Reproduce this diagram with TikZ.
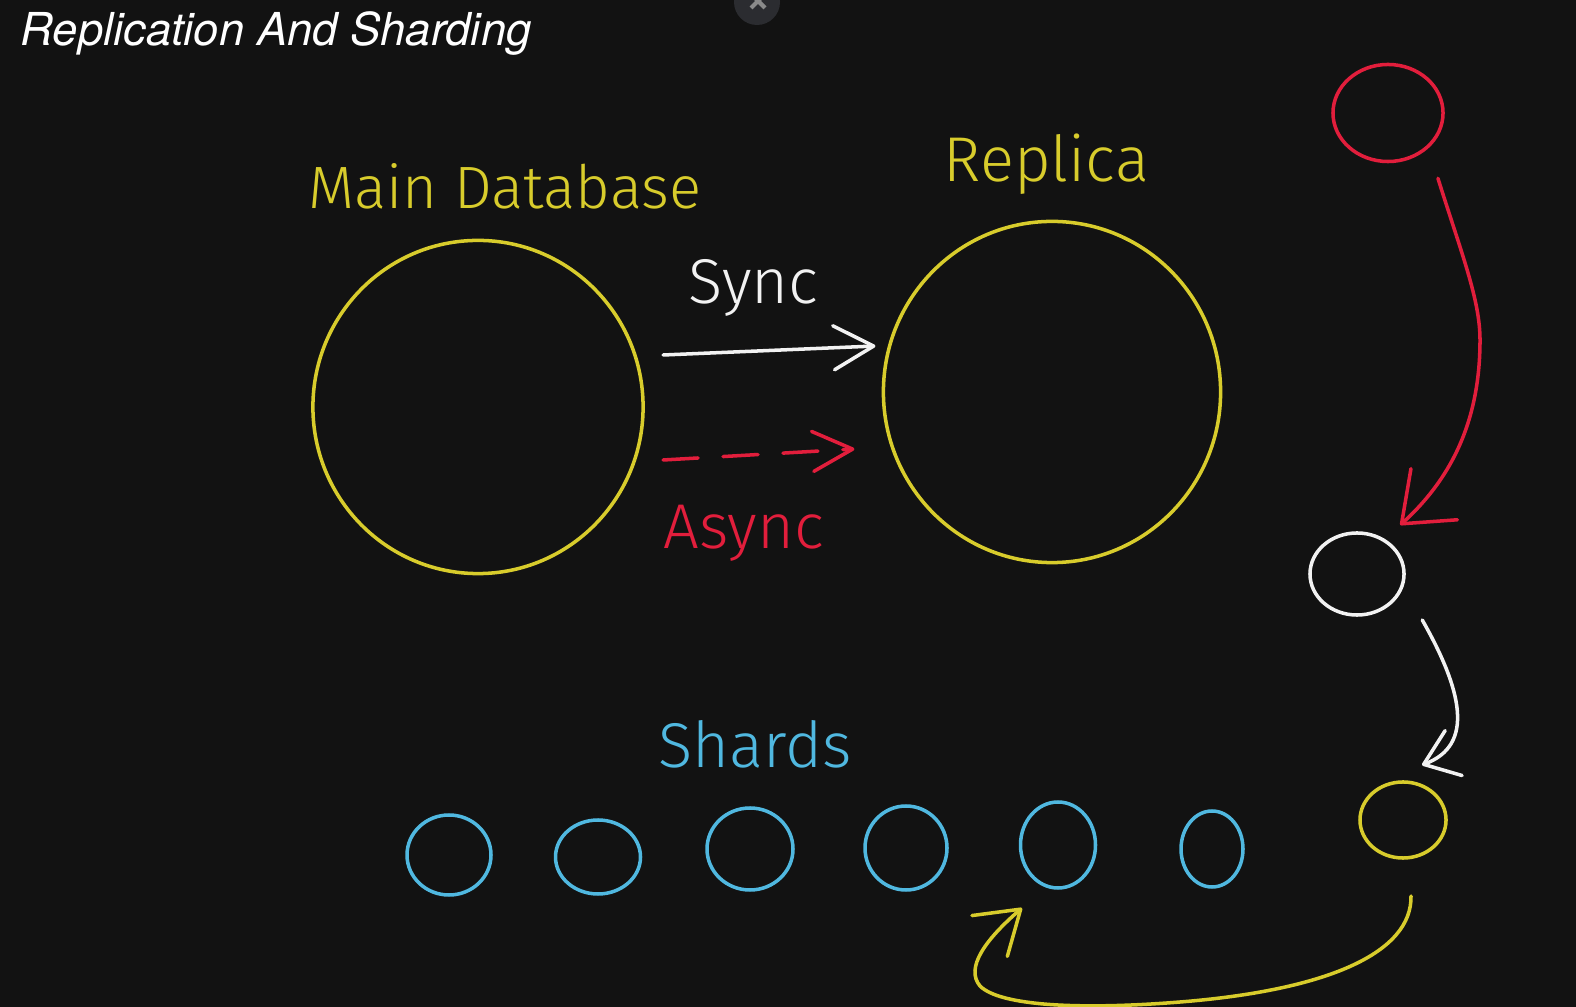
\documentclass[tikz,border=0pt]{standalone}
\usepackage{fontspec}
\setmainfont{TeX Gyre Heros}
\newfontfamily\handfont{Fira Sans Light}
\usetikzlibrary{shapes.geometric, arrows.meta, calc}

\definecolor{boardbg}{HTML}{121212}
\definecolor{penyellow}{HTML}{D8CC2C}
\definecolor{penblue}{HTML}{50B8E0}
\definecolor{penred}{HTML}{E21E3C}
\definecolor{penwhite}{HTML}{F2F2F2}
\definecolor{closegrey}{HTML}{2B2C30}
\definecolor{closemark}{HTML}{8A8A8A}

\begin{document}
\begin{tikzpicture}[x=0.01cm, y=-0.01cm,
    handline/.style={line width=1pt, line cap=round, line join=round},
    blob/.style={ellipse, draw, handline, inner sep=0pt, outer sep=0pt},
    handlabel/.style={font=\handfont\fontsize{18pt}{18pt}\selectfont, inner sep=0pt, anchor=base west},
    barb/.style 2 args={-{Straight Barb[length=#1, width=#2, round]}}
]
    \fill[boardbg] (0,0) rectangle (1576,1007);
    \useasboundingbox (0,0) rectangle (1576,1007);
    \clip (0,0) rectangle (1576,1007);

    % close button at the top edge
    \node[circle, fill=closegrey, minimum size=0.46cm, inner sep=0pt] (closebtn) at (757,2) {};
    \draw[closemark, line width=1.2pt] (751,-6) -- (765,8);
    \draw[closemark, line width=1.2pt] (765,-6) -- (751,8);

    \node[font=\itshape\fontsize{12.9pt}{16pt}\selectfont, text=white, anchor=base west, inner sep=0pt] (title) at (20,46) {Replication And Sharding};

    % main database and its replica
    \node[blob, penyellow, minimum width=3.30cm, minimum height=3.33cm] (maindb) at (478,407) {};
    \node[blob, penyellow, minimum width=3.37cm, minimum height=3.41cm] (replica) at (1052,392) {};
    \node[handlabel, text=penyellow, font=\handfont\fontsize{17pt}{17pt}\selectfont] (maindblabel) at (308,209) {Main Database};
    \node[handlabel, text=penyellow] (replicalabel) at (943,182) {Replica};

    % sync and async
    \node[handlabel, text=penwhite] (synclabel) at (688,304) {Sync};
    \draw[handline, penwhite, barb={0.40cm}{0.44cm}] ($(maindb.east)+(20,-52)$) -- ($(replica.west)+(-8,-46)$);
    \draw[handline, penred, dash pattern=on 0.35cm off 0.25cm, barb={0.40cm}{0.40cm}] ($(maindb.east)+(20,53)$) -- ($(replica.west)+(-29,57)$);
    \node[handlabel, text=penred] (asynclabel) at (663,549) {Async};

    % shards
    \node[handlabel, text=penblue] (shardslabel) at (658,768) {Shards};
    \foreach \cx/\cy/\w/\h [count=\i] in {449/855/84/80, 598/857/85/74, 750/849/86/82, 906/848/82/84, 1058/845/75/86, 1212/849/62/76}
        \node[blob, penblue, minimum width=\w*0.01cm, minimum height=\h*0.01cm] (shard\i) at (\cx,\cy) {};

    % right hand column
    \node[blob, penred, minimum width=1.10cm, minimum height=0.97cm] (redblob) at (1388,113) {};
    \node[blob, penwhite, minimum width=0.94cm, minimum height=0.82cm] (whiteblob) at (1357,574) {};
    \node[blob, penyellow, minimum width=0.86cm, minimum height=0.76cm] (yellowblob) at (1403,820) {};

    \draw[handline, penred, barb={0.44cm}{0.69cm}] ($(redblob.south east)+(11,31)$)
        .. controls (1462,255) and (1480,300) .. (1480,340)
        .. controls (1480,420) and (1452,478) .. ($(whiteblob.north east)+(10,-20)$);
    \draw[handline, penwhite, barb={0.32cm}{0.48cm}] ($(whiteblob.south east)+(32,17)$)
        .. controls (1462,690) and (1475,745) .. ($(yellowblob.north)+(19,-17)$);
    \draw[handline, penyellow, barb={0.41cm}{0.54cm}] ($(yellowblob.south)+(8,38)$)
        .. controls (1412,952) and (1330,990) .. (1180,1002)
        .. controls (1080,1010) and (1000,1006) .. (980,986)
        .. controls (965,968) and (985,940) .. ($(shard5.south)+(-36,20)$);
\end{tikzpicture}
\end{document}
